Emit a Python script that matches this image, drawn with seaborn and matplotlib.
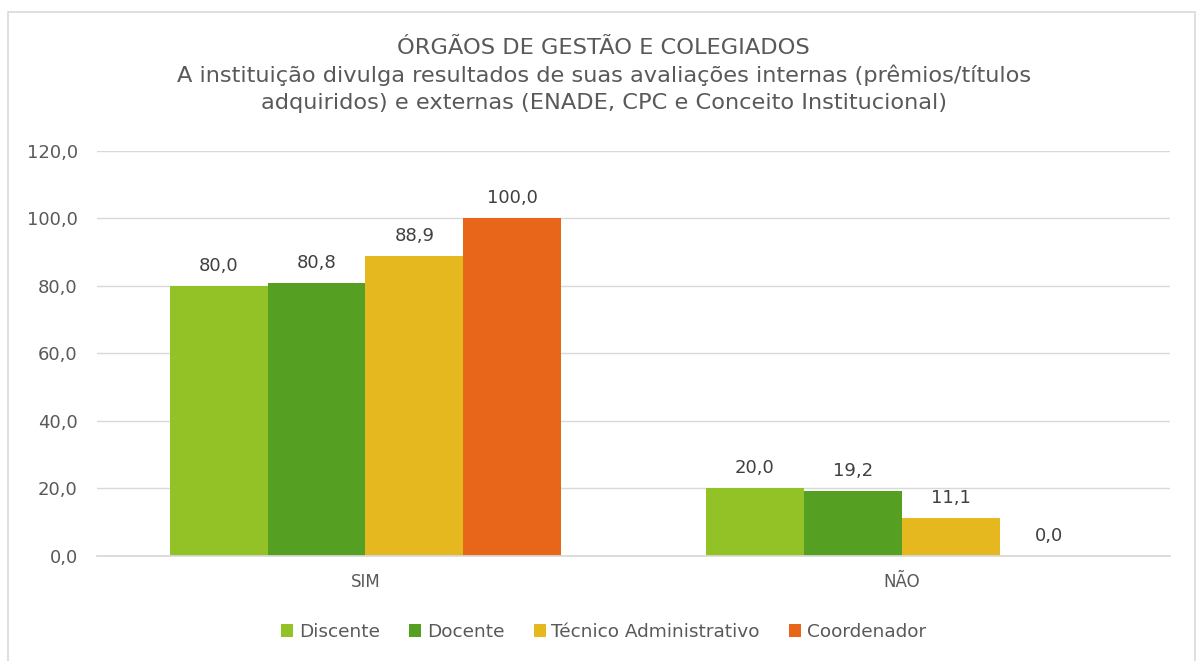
import matplotlib
matplotlib.use("Agg")
import matplotlib.pyplot as plt
from matplotlib.patches import Rectangle
import seaborn as sns
import pandas as pd

categories = ["SIM", "NÃO"]
series = ["Discente", "Docente", "Técnico Administrativo", "Coordenador"]
discente = [80.0, 20.0]
docente = [80.8, 19.2]
tecnico = [88.9, 11.1]
coordenador = [100.0, 0.0]
colors = ["#93C226", "#55A023", "#E5B820", "#E8661A"]
yticks = [0, 20, 40, 60, 80, 100, 120]

rows = []
for s, vals in zip(series, [discente, docente, tecnico, coordenador]):
    for c, v in zip(categories, vals):
        rows.append({"cat": c, "serie": s, "valor": v})
df = pd.DataFrame(rows)

sns.set_theme(style="white")
plt.rcParams["font.family"] = ["DejaVu Sans"]
text_color = "#595959"

fig = plt.figure(figsize=(12, 6.61), dpi=100)
ax = fig.add_axes([0.081, 0.159, 0.894, 0.613])

sns.barplot(data=df, x="cat", y="valor", hue="serie", order=categories,
            hue_order=series, palette=colors, width=0.73, gap=0,
            saturation=1, errorbar=None, ax=ax, legend=True, linewidth=0)

ax.set_ylim(0, 120)
ax.set_yticks(yticks)
ax.set_yticklabels([f"{t:.1f}".replace(".", ",") for t in yticks],
                   color=text_color, fontsize=13)
ax.set_xticklabels(categories, color=text_color, fontsize=12)
ax.set_xlabel("")
ax.set_ylabel("")
ax.yaxis.grid(True, color="#D9D9D9", linewidth=1)
ax.set_axisbelow(True)
for sp in ["top", "right", "left"]:
    ax.spines[sp].set_visible(False)
ax.spines["bottom"].set_color("#D9D9D9")
ax.tick_params(axis="y", length=0, pad=14)
ax.tick_params(axis="x", length=0, pad=12)
ax.set_xlim(-0.5, 1.5)

for cont in ax.containers:
    ax.bar_label(cont, labels=[f"{v:.1f}".replace(".", ",") for v in cont.datavalues],
                 padding=8, color="#404040", fontsize=13)

leg = ax.get_legend()
handles = leg.legend_handles
leg.remove()
fig.legend(handles, series, loc="center", bbox_to_anchor=(0.503, 0.044),
           ncol=4, frameon=False, fontsize=13.3, handlelength=0.65,
           handleheight=0.65, handletextpad=0.3, columnspacing=1.6,
           labelcolor=text_color)

fig.text(0.503, 0.886, "ÓRGÃOS DE GESTÃO E COLEGIADOS\nA instituição divulga resultados de suas avaliações internas (prêmios/títulos\nadquiridos) e externas (ENADE, CPC e Conceito Institucional)",
         ha="center", va="center", fontsize=16.2, color=text_color, linespacing=1.42)

fig.patches.append(Rectangle((0.007, -0.01), 0.989, 0.992, transform=fig.transFigure,
                             fill=False, edgecolor="#D9D9D9", linewidth=1.2))

fig.savefig("out.png", dpi=100)
